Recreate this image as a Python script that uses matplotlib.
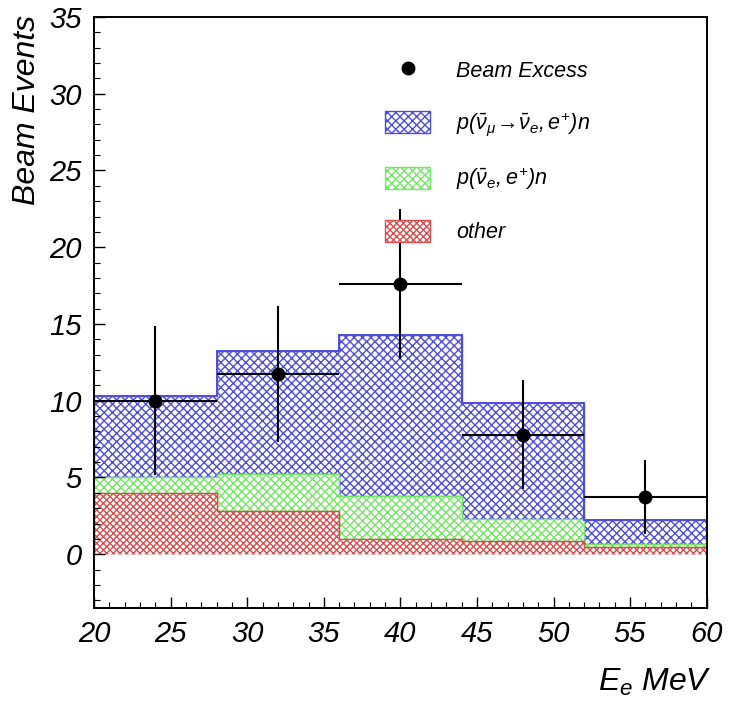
import matplotlib
matplotlib.use("Agg")
import matplotlib.pyplot as plt
from matplotlib.patches import Patch
from matplotlib.lines import Line2D
import numpy as np

plt.rcParams['font.family'] = ['Liberation Sans', 'DejaVu Sans']
plt.rcParams['font.style'] = 'italic'
plt.rcParams['mathtext.fontset'] = 'custom'
plt.rcParams['mathtext.it'] = 'Liberation Sans:italic'
plt.rcParams['mathtext.rm'] = 'Liberation Sans:italic'
plt.rcParams['hatch.linewidth'] = 1.0

# bin edges (MeV) and stacked contributions per bin
edges = [20, 28, 36, 44, 52, 60]
other = [4.0, 2.8, 1.0, 0.85, 0.45]
nue_bkg = [1.05, 2.45, 2.8, 1.45, 0.2]
osc = [5.25, 8.0, 10.5, 7.55, 1.55]

# beam excess data
x_pts = [24, 32, 40, 48, 56]
y_pts = [10.0, 11.75, 17.6, 7.8, 3.75]
y_err = [4.85, 4.45, 4.9, 3.55, 2.4]
x_err = [4, 4, 4, 4, 4]

blue = (0.3, 0.3, 0.88)
green = (0.45, 0.9, 0.4)
red = (0.85, 0.3, 0.3)

fig = plt.figure(figsize=(7.3, 7.05), dpi=100)
ax = fig.add_axes([0.129, 0.1376, 0.839, 0.8384])

other = np.array(other)
lvl2 = other + np.array(nue_bkg)
lvl3 = lvl2 + np.array(osc)

ax.stairs(lvl3, edges, baseline=lvl2, fill=True, facecolor='white',
          edgecolor=blue, hatch='xxxx', lw=1.0, zorder=1)
ax.stairs(lvl3, edges, baseline=None, color=blue, lw=1.4, zorder=2)
ax.stairs(lvl2, edges, baseline=other, fill=True, facecolor='white',
          edgecolor=green, hatch='xxxx', lw=1.0, zorder=1)
ax.stairs(other, edges, baseline=0, fill=True, facecolor='white',
          edgecolor=red, hatch='xxxxx', lw=1.0, zorder=1)

ax.errorbar(x_pts, y_pts, yerr=y_err, xerr=x_err, fmt='o', color='black',
            ms=9, elinewidth=1.5, capsize=0, zorder=5)

ax.set_xlim(20, 60)
ax.set_ylim(-3.5, 35)
ax.set_xticks(np.arange(20, 61, 5))
ax.set_xticks(np.arange(20, 61, 1), minor=True)
ax.set_yticks(np.arange(0, 36, 5))
ax.set_yticks(np.arange(-3, 36, 1), minor=True)
ax.tick_params(which='both', direction='in', top=False, right=False,
               labelsize=21)
ax.tick_params(which='major', length=8, width=1)
ax.tick_params(which='minor', length=4, width=0.8)
ax.tick_params(axis='x', pad=9)
ax.tick_params(axis='y', pad=9)
for s in ax.spines.values():
    s.set_linewidth(1.4)

ax.set_ylabel('Beam Events', fontsize=23, loc='top')
ax.yaxis.set_label_coords(-0.085, 1.003)
ax.set_xlabel(r'$E_e$ MeV', fontsize=23, loc='right')
ax.xaxis.set_label_coords(1.008, -0.1)

handles = [
    Line2D([], [], marker='o', color='black', ls='none', ms=9),
    Patch(facecolor='white', edgecolor=blue, hatch='xxxx'),
    Patch(facecolor='white', edgecolor=green, hatch='xxxx'),
    Patch(facecolor='white', edgecolor=red, hatch='xxxxx'),
]
labels = ['Beam Excess',
          r'$p(\bar{\nu}_{\mu}\!\rightarrow\!\bar{\nu}_{e}, e^{+})n$',
          r'$p(\bar{\nu}_{e}, e^{+})n$',
          'other']
ax.legend(handles, labels, loc='upper left', bbox_to_anchor=(0.4435, 0.962),
          frameon=False, fontsize=15.5, handlelength=2.1, handleheight=1.2,
          labelspacing=1.3, handletextpad=1.2)

fig.savefig('out.png', dpi=100)
